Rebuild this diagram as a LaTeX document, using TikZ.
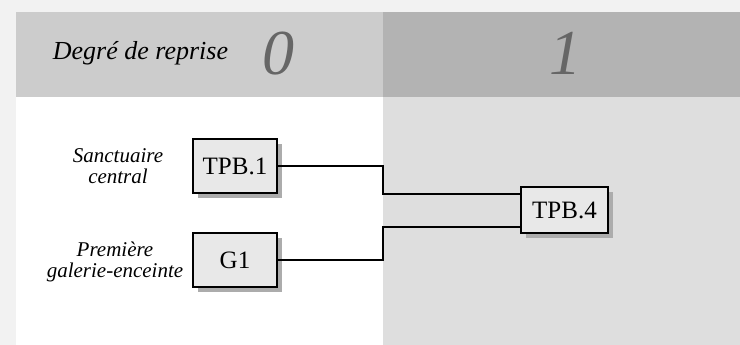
\documentclass[tikz,border=0pt]{standalone}
\usepackage{fontspec}
\setmainfont{Liberation Serif}
\usetikzlibrary{shadows,calc}
\definecolor{cpage}{RGB}{242,242,242}
\definecolor{chead0}{RGB}{204,204,204}
\definecolor{chead1}{RGB}{179,179,179}
\definecolor{cbody1}{RGB}{222,222,222}
\definecolor{cbox}{RGB}{232,232,232}
\definecolor{cshade}{RGB}{172,172,172}
\definecolor{cdigit}{RGB}{102,102,102}

\begin{document}
\begin{tikzpicture}[x=1pt,y=-1pt,
  unit/.style={draw=black,line width=2pt,fill=cbox,inner sep=0pt,
    font=\fontsize{25}{30}\selectfont,minimum width=84pt,minimum height=54pt,
    drop shadow={shadow xshift=5pt,shadow yshift=-5pt,fill=cshade,opacity=1}},
  link/.style={line width=1.8pt},
  site/.style={align=center,inner sep=0pt,font=\fontsize{21}{21}\selectfont\itshape},
  degree/.style={inner sep=0pt,text=cdigit,font=\fontsize{64}{70}\selectfont\itshape}]

  % Fixed frame: 740 x 345, one unit per pixel.
  \useasboundingbox (0,0) rectangle (740,345);
  \fill[cpage] (0,0) rectangle (740,345);

  % ---------------- Columns ----------------
  \fill[chead0] (16,12) rectangle (383,97);
  \fill[chead1] (383,12) rectangle (740,97);
  \fill[white]  (16,97) rectangle (383,345);
  \fill[cbody1] (383,97) rectangle (740,345);
  \coordinate (colsep) at (383,0);

  % ---------------- Header ----------------
  \node[anchor=base,inner sep=0pt,font=\fontsize{26}{30}\selectfont\itshape]
    (title) at (140.5,60) {Degré de reprise};
  \node[degree] (deg0) at (278.5,53.5) {0};
  \node[degree] (deg1) at (565,53.5) {1};

  % ---------------- Units ----------------
  \node[unit] (tpb1) at (235,166) {TPB.1};
  \node[unit] (g1)   at (235,260) {G1};
  \node[unit,minimum width=87pt,minimum height=46pt] (tpb4) at (564.5,210) {TPB.4};

  \node[site] (sanct) at (118,166) {Sanctuaire\\central};
  \node[site] (galer) at (115,262) {Première\\galerie-enceinte};

  % ---------------- Links ----------------
  \coordinate (in1) at ($(tpb4.west)+(0,-16)$);
  \coordinate (in2) at ($(tpb4.west)+(0,17)$);
  \draw[link] (tpb1.east) -| (colsep |- in1) -- (in1);
  \draw[link] (g1.east) -| (colsep |- in2) -- (in2);

\end{tikzpicture}
\end{document}
